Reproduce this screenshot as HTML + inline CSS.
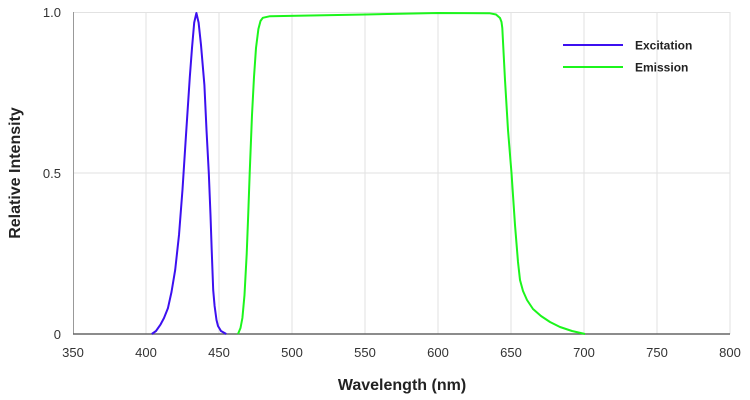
<!DOCTYPE html>
<html><head><style>body{margin:0;background:#fff}svg{display:block;font-family:"Liberation Sans",Arial,sans-serif}</style></head><body>
<svg width="750" height="400" viewBox="0 0 750 400">
<g stroke="#e2e2e2" stroke-width="1">
<line x1="146" y1="12" x2="146" y2="334"/><line x1="219" y1="12" x2="219" y2="334"/><line x1="292" y1="12" x2="292" y2="334"/><line x1="365" y1="12" x2="365" y2="334"/><line x1="438" y1="12" x2="438" y2="334"/><line x1="511" y1="12" x2="511" y2="334"/><line x1="584" y1="12" x2="584" y2="334"/><line x1="657" y1="12" x2="657" y2="334"/><line x1="730" y1="12" x2="730" y2="334"/>
<line x1="73" y1="173" x2="730" y2="173"/><line x1="73" y1="12.5" x2="730" y2="12.5"/>
</g>
<line x1="73.5" y1="12" x2="73.5" y2="334" stroke="#999"/>
<line x1="73" y1="334" x2="730" y2="334" stroke="#666" stroke-width="1.5"/>
<g font-size="13" fill="#333" text-anchor="middle">
<text x="73" y="357">350</text><text x="146" y="357">400</text><text x="219" y="357">450</text><text x="292" y="357">500</text><text x="365" y="357">550</text><text x="438" y="357">600</text><text x="511" y="357">650</text><text x="584" y="357">700</text><text x="657" y="357">750</text><text x="730" y="357">800</text>
</g>
<g font-size="13" fill="#333" text-anchor="end">
<text x="61" y="339">0</text><text x="61" y="178">0.5</text><text x="61" y="17">1.0</text>
</g>
<text x="402" y="390" font-size="16" font-weight="bold" text-anchor="middle" fill="#222">Wavelength (nm)</text>
<text transform="translate(20,173) rotate(-90)" font-size="16" font-weight="bold" text-anchor="middle" fill="#222">Relative Intensity</text>
<polyline fill="none" stroke="#3c10f0" stroke-width="2" stroke-linejoin="round" points="151.8,334 156,331 160.6,324.4 164,318 167.9,308.3 171.5,292 175.2,269.8 179,235 182.5,189.6 186,135 189.8,77.2 192,48 194.2,22.6 196.4,13 198.6,22.6 201,45 204.4,85 206.5,130 208.8,173 210.5,215 211.7,250 213.2,290 214.6,306 216.5,320 218,326 221,331 226.3,334"/>
<polyline fill="none" stroke="#1cf51c" stroke-width="2" stroke-linejoin="round" points="238,334 240.5,328 242.4,318 244.5,295 246.7,254 248.2,215 249.7,173 252,115 254,77 256,48 258.4,29 260.5,21 262.8,17.8 270,16.2 365,14.5 438,13 490,13.3 496,14.5 500,18 501.5,22 502.3,28 505,80 508,130 511.5,173 515,225 518,262 520,280 523,291 527,300 533,309 541,316 550,322 560,327 572,331 585,334"/>
<line x1="563" y1="45" x2="623" y2="45" stroke="#3c10f0" stroke-width="2"/>
<line x1="563" y1="67" x2="623" y2="67" stroke="#1cf51c" stroke-width="2"/>
<text x="635" y="49.5" font-size="12" font-weight="bold" fill="#222">Excitation</text>
<text x="635" y="71.5" font-size="12" font-weight="bold" fill="#222">Emission</text>
</svg>
</body></html>
